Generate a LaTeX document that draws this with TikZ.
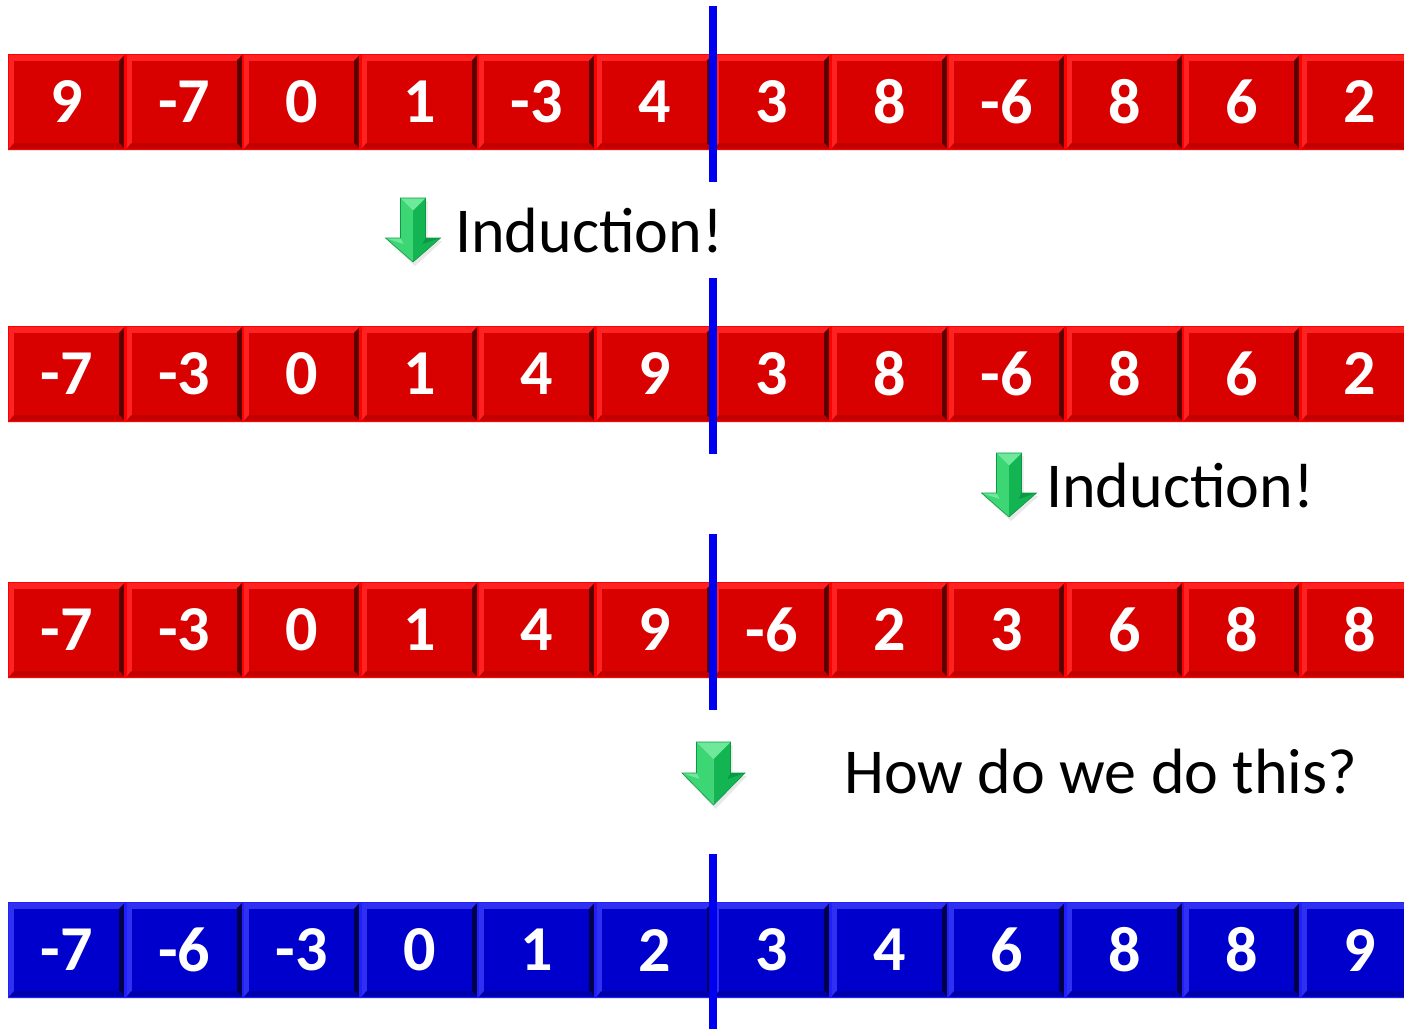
\documentclass[tikz,border=0pt]{standalone}
\usepackage{fontspec}
\setmainfont{Carlito}
\definecolor{rLight}{HTML}{FF2222}
\definecolor{rFace}{HTML}{D90000}
\definecolor{rDark}{HTML}{5A0000}
\definecolor{rBot}{HTML}{C20000}
\definecolor{rEdge}{HTML}{FF0000}
\definecolor{bLight}{HTML}{3030F0}
\definecolor{bFace}{HTML}{0000CC}
\definecolor{bDark}{HTML}{00004A}
\definecolor{bBot}{HTML}{0000AA}
\definecolor{bEdge}{HTML}{2020FF}
\definecolor{gLight}{HTML}{3CD674}
\definecolor{gMid}{HTML}{12B552}
\definecolor{gTop}{HTML}{6EE89A}
\definecolor{gDark}{HTML}{0A9A45}
\definecolor{sepBlue}{HTML}{0000F0}
\tikzset{
  celltext/.style={text=white,font=\fontsize{64}{70}\selectfont\bfseries,inner sep=0pt,anchor=center},
  label/.style={text=black,font=\fontsize{64}{70}\selectfont,inner sep=0pt,anchor=base west},
  sepline/.style={draw=sepBlue,line width=8pt},
}
% #1 name, #2 left x, #3 top y, #4 text, #5 colour prefix
\newcommand\bcell[5]{%
  \fill[#5Light] (#2,#3) rectangle (#2+117.5,#3+96);
  \fill[#5Dark] (#2+117.5,#3) -- (#2+117.5,#3+96) -- (#2+111,#3+89) -- (#2+111,#3+7) -- cycle;
  \fill[#5Bot] (#2,#3+96) -- (#2+117.5,#3+96) -- (#2+111,#3+89) -- (#2+6,#3+89) -- cycle;
  \fill[#5Face] (#2+6,#3+7) rectangle (#2+111,#3+89);
  \draw[#5Edge,line width=1.2pt] (#2+0.6,#3+0.6) rectangle (#2+116.9,#3+95.4);
  \node[celltext] (#1) at (#2+58.75,#3+48) {#4};
}
% #1 cx, #2 top, #3 shaft half, #4 head half, #5 head y offset, #6 tip y offset
\newcommand\garrow[6]{%
  \fill[black!18,opacity=0.5] (#1-#3+2,#2+3) -- (#1+#3+2,#2+3) -- (#1+#3+2,#2+#5+3) -- (#1+#4+2,#2+#5+3) -- (#1+2,#2+#6+4) -- (#1-#4+2,#2+#5+3) -- (#1-#3+2,#2+#5+3) -- cycle;
  \fill[gLight] (#1-#3,#2) -- (#1,#2) -- (#1,#2+#6) -- (#1-#4,#2+#5) -- (#1-#3,#2+#5) -- cycle;
  \fill[gMid] (#1+#3,#2) -- (#1,#2) -- (#1,#2+#6) -- (#1+#4,#2+#5) -- (#1+#3,#2+#5) -- cycle;
  \fill[gTop] (#1-#3,#2) -- (#1+#3,#2) -- (#1,#2+#3) -- cycle;
  \fill[gTop] (#1-#4,#2+#5) -- (#1-#3,#2+#5) -- (#1-#3+3,#2+#5+6) -- cycle;
  \fill[gDark] (#1+#4,#2+#5) -- (#1+#3,#2+#5) -- (#1+#3-3,#2+#5+6) -- cycle;
  \draw[gDark,line width=0.6pt] (#1-#3,#2) -- (#1+#3,#2) -- (#1+#3,#2+#5) -- (#1+#4,#2+#5) -- (#1,#2+#6) -- (#1-#4,#2+#5) -- (#1-#3,#2+#5) -- cycle;
}
\begin{document}
\begin{tikzpicture}[x=1pt,y=-1pt]
\useasboundingbox (0,0) rectangle (1404,1028);
\clip (0,0) rectangle (1404,1028);
% rows
\foreach \v [count=\i from 0] in {9,-7,0,1,-3,4,3,8,-6,8,6,2}
  {\bcell{ra\i}{8+117.5*\i}{54}{\v}{r}}
\foreach \v [count=\i from 0] in {-7,-3,0,1,4,9,3,8,-6,8,6,2}
  {\bcell{rb\i}{8+117.5*\i}{326}{\v}{r}}
\foreach \v [count=\i from 0] in {-7,-3,0,1,4,9,-6,2,3,6,8,8}
  {\bcell{rc\i}{8+117.5*\i}{582}{\v}{r}}
\foreach \v [count=\i from 0] in {-7,-6,-3,0,1,2,3,4,6,8,8,9}
  {\bcell{rd\i}{8+117.5*\i}{902}{\v}{b}}
% separators
\coordinate (s1a) at (713,6);   \coordinate (s1b) at (713,182);
\coordinate (s2a) at (713,278); \coordinate (s2b) at (713,454);
\coordinate (s3a) at (713,534); \coordinate (s3b) at (713,710);
\coordinate (s4a) at (713,854); \coordinate (s4b) at (713,1030);
\draw[sepline] (s1a) -- (s1b);
\draw[sepline] (s2a) -- (s2b);
\draw[sepline] (s3a) -- (s3b);
\draw[sepline] (s4a) -- (s4b);
% arrows
\garrow{413}{198}{12.5}{27.5}{40}{64}
\garrow{1009}{453}{12.5}{27.5}{40}{64}
\garrow{713.5}{742}{17}{31.5}{31}{63}
% labels
\node[label] (t1) at (455,252) {Induction!};
\node[label] (t2) at (1046,507) {Induction!};
\node[label] (t3) at (844,793) {How do we do this?};
\end{tikzpicture}
\end{document}
